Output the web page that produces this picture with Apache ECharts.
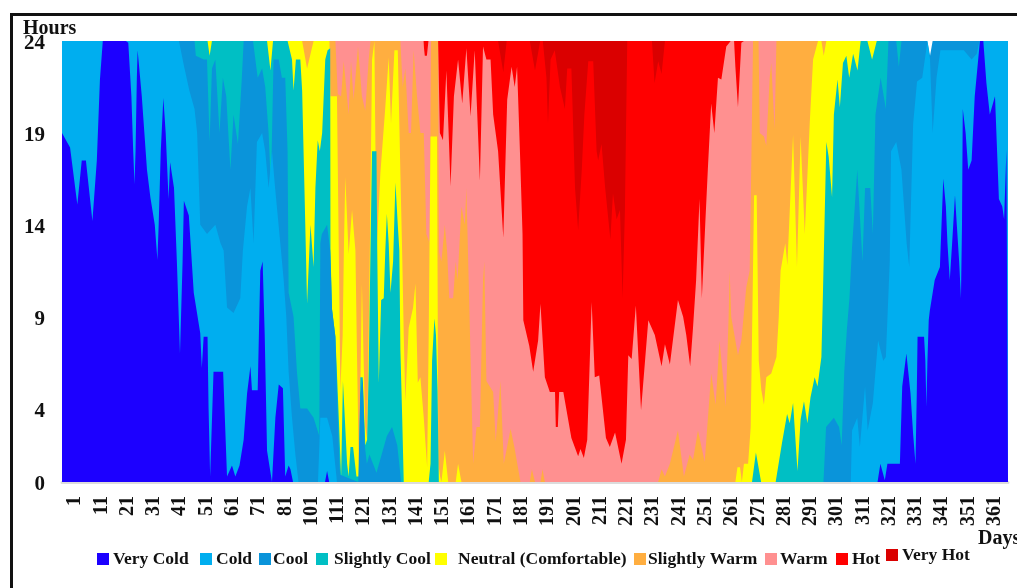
<!DOCTYPE html>
<html><head><meta charset="utf-8">
<style>
html,body{margin:0;padding:0;background:#fff;overflow:hidden;width:1017px;height:588px}
#frame{position:absolute;left:10px;top:13px;right:-10px;bottom:-10px;border-left:3px solid #111;border-top:3px solid #111}
#c{position:absolute;left:0;top:0;width:1017px;height:588px}
</style>
<script src="https://cdn.jsdelivr.net/npm/echarts@6/dist/echarts.min.js"></script>
</head><body><div id="frame"></div><div id="c"></div>
<script>
// Tick labels as printed (91 does not appear in the source picture)
const dayLabels=['1','11','21','31','41','51','61','71','81','101','111','121','131','141','151','161','171','181','191','201','211','221','231','241','251','261','271','281','291','301','311','321','331','341','351','361'];
const hourTicks=[0,4,9,14,19,24];
const classNames=['Very Cold','Cold','Cool','Slightly Cool','Neutral (Comfortable)','Slightly Warm','Warm','Hot','Very Hot'];
const classColors=['#1C00FF','#00AEEF','#0A94DA','#00BFC4','#FFFF00','#FFAE40','#FF9090','#FF0000','#DA0000'];

// Upper edge of each comfort class: [day position, cumulative hours of the day]
const veryColdTop=[[1,19],[1.5,19],[4.1,18.2],[6.9,15.1],[8.6,17.5],[10.2,17.5],[12.7,14.2],[14.4,17.5],[15.6,21.9],[16.7,24],[25.6,24],[26.5,23.9],[27.7,21],[28.4,18],[28.9,16.2],[29.3,18],[29.8,22],[30.1,23.5],[31.7,21],[33.7,17],[35,15.5],[36.7,14],[37.7,12.1],[38.2,14],[39,18],[40,20.9],[40.9,19],[42,15.4],[42.6,17.4],[43.2,17.4],[44.1,16],[45.2,12],[46.4,7],[47.4,12],[47.9,15.3],[49.8,14.5],[51.7,10.3],[54.2,8.1],[54.8,6.2],[55.5,7.9],[57,7.9],[57.4,4],[58,0.3],[59.3,6],[63,6],[64.5,0.3],[66.4,0.9],[67.7,0.3],[69.3,0.9],[70.9,2.3],[72.2,4.8],[73.5,6.3],[74.1,5],[76.3,5],[77.3,11.5],[78.2,12],[79,8],[79.9,1.7],[81.8,0],[83.1,3.5],[84.4,5.3],[86,5.1],[86.9,0.3],[88.2,0.9],[88.9,0.7],[89.9,0],[102.2,0],[103,0.6],[103.8,0],[314.8,0],[315.9,1],[317.6,0.1],[318.6,1],[323.4,1],[324.3,5.2],[325.9,7],[327.5,4.8],[328.5,2.6],[329.4,1],[329.9,4.8],[330.2,7.9],[332.7,7.9],[333.2,6.6],[333.6,4.1],[334,6.6],[334.5,8.8],[334.9,9.3],[336.8,11],[338.8,11.7],[340.1,16.5],[341.1,15],[341.7,13],[342.6,11],[343.5,13],[344.6,15.6],[345.3,14],[346.2,12],[346.9,10],[347.3,14],[347.6,20.3],[348.7,19],[349.7,17],[351,17.5],[352.2,21],[354.2,24],[355.5,24],[356.7,21.7],[358,20],[360,21],[361.5,15.4],[362.8,15],[363.5,14.3],[364.4,18.1],[365,18.1]];
const coldTop=[[1,24],[46,24],[48,22.6],[50,21.3],[52,20.3],[53,19],[54.2,14],[56.8,13.5],[60,14],[62,13],[63.2,12.6],[64.5,9.5],[67,9.2],[69.6,10],[70.6,12.6],[72.2,15],[73.5,16],[74.7,13],[76,18.5],[78,19],[79.2,18],[80.5,16],[81.8,18],[83,16],[85,13],[86.3,11],[87.3,9],[88.2,6],[89.5,3.5],[90.8,1.5],[92,0],[99.5,0],[100.4,3.5],[103,3.5],[105,2.5],[106.8,0],[304.5,0],[305,2.8],[307,3.5],[308,1.9],[310,5.2],[311,2.8],[313,4.3],[315,7.7],[317,6.6],[318,6.8],[319.5,12],[320,18],[322,18.5],[324,17],[326,13],[327,11.7],[328.5,19.5],[330,21.8],[332,22],[334,24],[335,23],[336,19],[337.5,22],[339,23.5],[345,23.5],[348,23.5],[351,23],[353,23.3],[354,24],[365,24]];
const coolTop=[[44,24],[52,24],[52.5,23.2],[55.5,23],[56.8,23],[57.8,18.5],[58.7,22.5],[60,23],[61.6,19],[62.9,22],[64.2,21],[65.8,17],[67,20],[68.7,18.4],[70.2,22],[70.9,24],[74.5,24],[75.4,23],[76.3,22],[78,22.5],[79.2,21.5],[80.5,19],[81.4,16],[82.4,23],[84.4,23],[85.6,22],[86.9,22],[87.8,18],[88.2,10.3],[90.1,9],[91.4,6],[92.7,4],[95.3,4],[97.8,3.5],[100,2.5],[100.4,13],[101,13.5],[103,14],[104.2,12.6],[104.9,9.4],[106.2,7.9],[106.8,5],[107.2,3.2],[107.5,2],[108,0.4],[115,0],[115.8,4.8],[116.7,5.6],[117.5,2],[118.3,1],[119.3,1.5],[122,0.5],[124,1.5],[126,2.5],[128,3],[130,2],[131.5,0],[294,0],[295,3],[298,3.5],[300,3],[301,2],[302,6],[303,8.3],[304,10],[305,12.8],[307,17],[309,12],[310,16],[312,16],[313,13.5],[314,20],[316,22],[318,20.3],[319,24],[322,24],[323,22.6],[324,24],[334,24],[335,23.2],[336,24],[356,24]];
const slightlyCoolTop=[[50,24],[57,24],[57.8,23.2],[58.7,24],[79.9,24],[81.2,22.4],[82.2,24],[87.8,24],[89.5,23],[90.1,21.3],[91,23],[92.7,23],[93.4,21.3],[94.3,15.9],[95.3,9.7],[96.6,14],[97.8,11.7],[98.5,16],[99.4,18.6],[100.2,18],[101.1,19],[102.3,23],[103.2,23.5],[104.2,23.6],[104.3,12.6],[104.9,9.4],[106.2,7.9],[107.5,3.5],[108.4,0.3],[108.7,0.3],[109.1,5.5],[109.6,5.5],[110.7,1],[111.3,0.3],[112,1.9],[113,1.9],[114.3,0.3],[115.2,0.3],[115.8,5.7],[116.7,5.7],[117.7,2],[118.4,2.3],[119,6],[119.7,12.6],[120.3,18],[122,18],[122.3,12.6],[122.9,5.4],[123.8,9.9],[124.8,10],[125.4,12.6],[126,14.6],[126.7,13],[127.4,10.3],[128.4,12],[129.3,16.3],[130.2,14],[130.8,12.6],[131.2,7.2],[131.9,3.5],[132.5,0],[142.1,0],[142.8,1],[143.4,6.6],[144.3,8.9],[144.9,8],[145.5,5],[146,0],[266.5,0],[268,1.6],[270,0],[275.6,0],[278,2.1],[280,3.7],[281,3.2],[282.3,4.3],[284,0.6],[285.2,3.4],[286.5,4.4],[287.8,3.2],[289,4.6],[290.6,5.7],[291.7,5.2],[293.2,6.8],[293.8,10.3],[295.1,18.5],[296,17.7],[297.3,15.5],[298,20],[299.4,21.9],[300.3,20.4],[301.5,22.8],[302.8,23.2],[303.9,22],[305.4,23.3],[307.1,22.4],[308.3,24],[310.9,24],[312.7,23],[314.5,24],[325,24]];
const neutralTop=[[56,24],[93.4,24],[95.3,22.5],[97.8,24],[103.9,24],[104.3,21],[106.8,21],[107.3,15],[108.1,5],[109,8],[109.5,13],[110,16.6],[111.3,12.4],[112.6,14.8],[113.9,12.6],[114.5,7],[115.2,0.8],[115.8,5],[116.4,10.8],[117,7],[117.7,3],[118.4,2.3],[119.4,12],[120.3,23],[121.2,24],[122,12.4],[123.5,16.8],[125.4,20.4],[126.7,23.1],[127.6,19.5],[128.9,23.5],[130.2,23.5],[131.2,16.8],[131.9,12.4],[132.5,8],[133.1,4.4],[134.4,8.4],[136.1,9.5],[137,10.8],[137.9,5.4],[138.9,5.7],[140.2,3.5],[141.5,0.8],[142.1,8],[142.8,18.8],[145.3,18.8],[145.8,1],[146.5,0.3],[147,0],[148.3,1.7],[149.6,0],[152.5,0],[153.4,1],[154.7,0],[260.1,0],[260.9,0.8],[261.9,0.8],[262.6,0],[263.4,1],[265,1],[266,3],[267.3,15.6],[268.3,15.6],[269.1,6.6],[270.1,5],[271.1,4.2],[272,5.7],[273.9,5.9],[275.9,6.8],[276.8,9],[277.5,11.5],[279.3,13],[280.1,11.8],[282.3,18.9],[283.8,11.7],[285.2,18.8],[286.8,13.5],[288.7,19.5],[290,23],[291.9,24],[293.2,24],[294.1,23.2],[295.1,24],[316,24]];
const slightlyWarmTop=[[93,24],[106.2,24],[107.1,21.1],[108.4,21],[109.4,22.9],[111.3,20],[112.2,22.9],[113.2,20.8],[114.9,23.7],[116.4,21],[117.7,20.2],[119,23],[119.7,24],[131.2,24],[132.1,21.5],[133.1,22.5],[134.4,19],[135.3,19],[136.3,23.5],[137.6,21],[138.9,19],[140.2,19],[141.2,13.5],[142.5,13],[143,24],[145.7,24],[146.1,12.5],[147,12],[148.3,14],[149.2,12.5],[150,10],[151.5,10],[152.5,12],[153.2,11],[154.7,15],[156,14],[156.6,16],[157.3,12],[159.2,1],[160.5,3],[161.8,3],[163,11],[163.5,12],[164.3,5.5],[166.9,4.9],[167.9,2.2],[169.7,5.5],[171,1],[173.6,2.9],[175.2,1.8],[177.4,0],[181,0],[181.8,0.7],[183,0],[185.1,0],[185.9,0.7],[186.8,0],[230.4,0],[231.7,0.7],[233,0.3],[234.9,1],[238,2.8],[240.3,0.3],[242.5,1.5],[243.8,1.2],[245.7,2.8],[248.3,1.1],[250.8,5.9],[252.5,4.2],[254,7.7],[256.4,4.1],[257.5,9],[257.9,11.5],[258.5,9],[259.2,9],[261.1,6.9],[262.4,7.7],[264.3,10.6],[265.6,11.5],[266,15],[266.9,24],[269,24],[269.5,19],[271.1,18.8],[272,18.3],[273.3,22],[273.9,22.8],[275.2,19.2],[275.9,24],[300,24]];
const warmTop=[[105,24],[140,24],[140.6,23.2],[141.4,23.2],[142,24],[145.7,24],[146.4,19],[147.6,18.6],[148.9,22.4],[150.5,16.1],[151.8,21],[153.4,23],[155,20.6],[156.6,23.6],[158.2,19.9],[159.8,23.5],[161.8,16.4],[163,23.7],[164.3,23],[165.9,23],[166.9,20],[168.8,18],[170.8,13.3],[172.3,20.8],[174,22.6],[175.2,21.5],[176.1,22.6],[177.2,18],[178.2,13.5],[178.5,8.8],[180.8,7.4],[182.3,6],[184.2,7.7],[185.1,9.7],[186.8,5.7],[188.7,4.9],[190.7,4.9],[191,3],[191.8,3],[192.3,4.9],[193.9,4.9],[197,2.4],[199.6,1.4],[200.5,1.8],[201.8,1.3],[203.1,2.3],[204.8,9.8],[206,5.7],[207.7,5.8],[210.3,2.4],[211.8,1.9],[213.8,2.7],[216.3,1],[218,2.3],[218.9,6.9],[220.2,6.7],[221.8,9.6],[223.8,3.9],[226.6,8.8],[229.1,8],[231.7,6.3],[233,7.5],[234.9,6.4],[238,9.9],[240,9],[241.2,8],[242.7,6.3],[243.8,8.4],[245,11],[246.3,15.4],[247.2,10],[248.5,14],[249.5,17],[250.8,20.6],[252,19],[253.4,22],[254.7,21.9],[256.6,23.7],[258.3,24],[259.6,24],[260.1,22.6],[261.1,20.4],[262.4,23.9],[263.4,24],[278,24]];
const hotTop=[[140,24],[168.8,24],[170.8,22.3],[172.1,24],[181,24],[183,22.4],[185,24],[186,24],[187.4,22],[188,19.5],[189,23],[190.6,23.5],[192.6,21.5],[194.5,20.3],[195.4,22.5],[197,22.5],[198.4,16],[199.6,13.7],[201,17],[202,20],[203.5,22.9],[205.4,22.9],[206.7,18],[207.3,17.5],[208.6,18.4],[210,16],[212,13.2],[213,15.7],[214.4,14.3],[215.7,14.8],[216.7,10],[217.6,14.8],[218.5,24],[228,24],[229,21.7],[230.4,22.9],[231.7,22.2],[233,24],[266,24]];
const veryHotTop=[[165,24],[240,24]];
const classTops=[veryColdTop,coldTop,coolTop,slightlyCoolTop,neutralTop,slightlyWarmTop,warmTop,hotTop,veryHotTop];

const axisFont='"Liberation Serif","Times New Roman",serif';
const swatchLeft=[97,200,259,316,435,634,765,836,886];
const legendTop=[550,550,550,550,550,550,550,550,546];
const legendGapFix=[-1,-1,-3,1,6,-3,-2,-1,-1];

// Painted from the top class down: each area covers the classes above it.
const series=classNames.map((name,i)=>({
  name,type:'line',xAxisIndex:1,yAxisIndex:0,data:classTops[i],
  showSymbol:false,symbol:'none',silent:true,z:20-i,clip:true,
  lineStyle:{width:0},itemStyle:{color:classColors[i]},areaStyle:{color:classColors[i],opacity:1}
})).reverse();

const chart=echarts.init(document.getElementById('c'),null,{renderer:'canvas'});
chart.setOption({
  animation:false,backgroundColor:'transparent',
  grid:{left:62,top:41,width:946,height:441,containLabel:false},
  legend:classNames.map((n,i)=>({data:[n],left:swatchLeft[i],top:legendTop[i],padding:0,icon:'rect',itemWidth:12,itemHeight:12,selectedMode:false,
    textStyle:{fontFamily:axisFont,fontWeight:'bold',fontSize:17.5,color:'#111',padding:[0,0,0,legendGapFix[i]]}})),
  xAxis:[
    {type:'category',data:dayLabels,boundaryGap:true,offset:5,position:'bottom',
     axisLine:{show:true,lineStyle:{color:'#dcdcdc',width:3,type:[2,1]}},axisTick:{show:false},
     axisLabel:{interval:0,rotate:90,margin:9,fontFamily:axisFont,fontWeight:'bold',fontSize:20,color:'#111'}},
    {type:'value',min:1,max:365,show:false}
  ],
  yAxis:[{type:'value',min:0,max:24,axisLine:{show:false},axisTick:{show:false},splitLine:{show:false},
    axisLabel:{customValues:hourTicks,margin:17,verticalAlign:'top',lineHeight:6,fontFamily:axisFont,fontWeight:'bold',fontSize:21,color:'#111'}}],
  graphic:[
    {type:'text',left:23,top:19,style:{text:'Hours',font:'bold 20px '+axisFont,fill:'#111'}},
    {type:'text',left:978,top:529,style:{text:'Days',font:'bold 20px '+axisFont,fill:'#111'}}
  ],
  series
});
</script></body></html>
